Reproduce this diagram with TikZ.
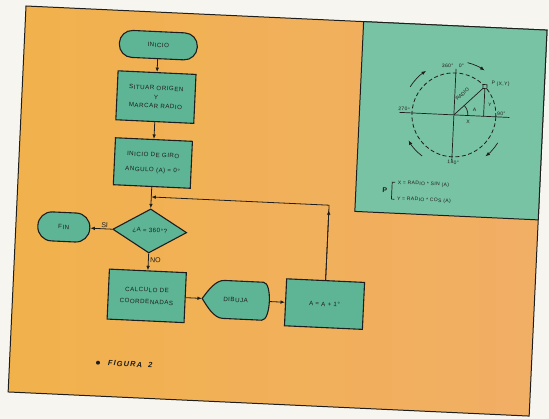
\documentclass[tikz,border=0pt]{standalone}
\usepackage{fontspec}
\setmainfont{Liberation Sans}
\newfontfamily\lab[LetterSpace=8]{Liberation Sans}
\newfontfamily\figfont[LetterSpace=14]{Liberation Sans}
\usetikzlibrary{arrows.meta,shapes.geometric}
\definecolor{orangeA}{HTML}{F1B24C}
\definecolor{orangeB}{HTML}{F1AE66}
\definecolor{tealpanel}{HTML}{78C3A3}
\definecolor{tealbox}{HTML}{5DB595}
\definecolor{ink}{HTML}{1E1E1E}
\definecolor{paper}{HTML}{F7F5EF}
\begin{document}
\begin{tikzpicture}[x=1pt,y=-1pt,
  box/.style={draw=ink, line width=1.1pt, fill=tealbox, rectangle, inner sep=1pt, align=center, text=ink, font=\lab\fontsize{6.2}{9}\selectfont},
  dia/.style={box, diamond, minimum width=74pt, minimum height=42pt},
  arr/.style={draw=ink, line width=0.8pt, -{Latex[length=4.5pt,width=3.6pt]}},
  thin/.style={draw=ink, line width=0.7pt},
  lbl/.style={text=ink, inner sep=0.5pt, font=\lab\fontsize{5}{6}\selectfont},
  tag/.style={text=ink, inner sep=0.5pt, font=\fontsize{7}{8}\selectfont}]
\fill[paper] (0,0) rectangle (549,419);
\useasboundingbox (0,0) rectangle (549,419);
\begin{scope}[shift={(26,6)}, rotate=-2.65, every node/.append style={transform shape}]
  % panels
  \draw[ink, line width=1pt, left color=orangeA, right color=orangeB] (0,0) rectangle (521.6,386.4);
  \draw[ink, line width=1pt, fill=tealpanel] (338,0) rectangle (521.6,190);
  % flowchart nodes
  \node[box, minimum width=78pt, minimum height=27pt, rounded corners=13pt] (ini) at (134,33) {INICIO};
  \node[box, minimum width=78pt, minimum height=49pt] (sit) at (134,85) {SITUAR ORIGEN\\Y\\MARCAR RADIO};
  \node[box, minimum width=77pt, minimum height=47pt] (giro) at (134,151) {INICIO DE GIRO\\[6pt]ANGULO (A) = 0°};
  \node[dia] (dia) at (134,219) {¿A = 360°?};
  \node[box, minimum width=52pt, minimum height=29pt, rounded corners=14pt] (fin) at (48,219) {FIN};
  \node[box, minimum width=77pt, minimum height=50pt] (calc) at (134,284) {CALCULO DE\\[3pt]COORDENADAS};
  \draw[ink, line width=1.1pt, fill=tealbox]
    (189.5,284) .. controls (195,276) and (202,265) .. (211,265)
    -- (250,265) .. controls (259,265) and (259,303) .. (250,303)
    -- (211,303) .. controls (202,303) and (195,292) .. (189.5,284) -- cycle;
  \node[inner sep=0pt, minimum width=67pt, minimum height=38pt, text=ink, font=\lab\fontsize{6.2}{9}\selectfont] (dib) at (223,284) {DIBUJA};
  \node[box, minimum width=78pt, minimum height=47pt] (inc) at (312,284) {A = A + 1°};
  % connectors
  \draw[arr] (ini) -- (sit);
  \draw[arr] (sit) -- (giro);
  \draw[arr] (giro) -- (dia);
  \draw[arr] (dia.west) -- (fin.east) node[tag, pos=0.35, anchor=south] {SI};
  \draw[arr] (dia) -- (calc) node[tag, pos=0.4, anchor=west, xshift=1pt] {NO};
  \draw[arr] (calc.east) -- (dib.west);
  \draw[arr] (dib.east) -- (inc.west);
  \coordinate (lc) at (312,185);
  \coordinate (lca) at (312,190);
  \coordinate (jn) at (134,185);
  \draw[thin, line width=0.8pt] (inc.north) -- (lc);
  \draw[arr] (inc.north) -- (lca);
  \draw[arr] (lc) -- (jn);
  % circle diagram
  \draw[ink, line width=0.8pt, dash pattern=on 4pt off 2.5pt] (432.5,89) circle[radius=42];
  \draw[thin] (378,89) -- (488,89);
  \draw[thin] (432.5,43) -- (432.5,134);
  \draw[thin] (432.5,89) -- (462.2,59.3);
  \draw[thin] (462.2,59.3) -- (462.2,89);
  \draw[thin, fill=tealpanel] (460.2,57.3) rectangle (464.2,61.3);
  \draw[thin] (446.5,89) arc[start angle=0, end angle=-45, radius=14];
  \draw[arr, line width=0.7pt] (432.5,89) ++(-150:52) arc[start angle=-150, end angle=-125, radius=52];
  \draw[arr, line width=0.7pt] (432.5,89) ++(-78:54) arc[start angle=-78, end angle=-58, radius=54];
  \draw[arr, line width=0.7pt] (432.5,89) ++(30:52) arc[start angle=30, end angle=50, radius=52];
  \draw[arr, line width=0.7pt] (432.5,89) ++(125:52) arc[start angle=125, end angle=148, radius=52];
  \node[lbl, anchor=east] at (430.5,40) {360°};
  \node[lbl, anchor=west] at (434.5,40) {0°};
  \node[lbl, anchor=south west] at (475,88) {90°};
  \node[lbl, anchor=south east] at (389,88) {270°};
  \node[lbl, anchor=north] at (434,134) {180°};
  \node[lbl, anchor=west] at (468,56) {P (X,Y)};
  \node[lbl] at (468,77) {Y};
  \node[lbl] at (447,95) {X};
  \node[lbl] at (453,83) {A};
  \node[lbl, rotate=45, font=\fontsize{5}{6}\selectfont] at (440,68) {RADIO};
  % formula
  \node[text=ink, font=\bfseries\fontsize{7}{8}\selectfont] at (367,167) {P};
  \draw[thin] (377,159) -- (374,159) -- (374,176) -- (377,176);
  \node[lbl, anchor=west] at (379,159.5) {X = RADIO * SIN (A)};
  \node[lbl, anchor=west] at (379,175.5) {Y = RADIO * COS (A)};
  % caption
  \fill[ink] (88.4,353) circle[radius=2];
  \node[anchor=west, text=ink, font=\figfont\bfseries\itshape\fontsize{7.5}{9}\selectfont] at (95,353) {FIGURA~~2};
\end{scope}
\end{tikzpicture}
\end{document}
